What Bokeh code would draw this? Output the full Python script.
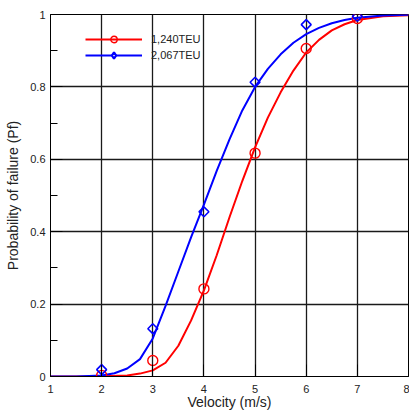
import math
from bokeh.plotting import figure
from bokeh.models import Range1d, FixedTicker, Legend, LegendItem
from bokeh.embed import file_html
from bokeh.resources import INLINE

# Measured data points
vel_pts = [2, 3, 4, 5, 6, 7]
teu1240_pts = [0.003, 0.044, 0.242, 0.617, 0.906, 0.989]
teu2067_pts = [0.019, 0.132, 0.455, 0.813, 0.972, 0.995]

# Fitted curves
red_curve_x = [1, 1.5, 2, 2.5, 2.75, 3, 3.25, 3.5, 3.75, 4, 4.25, 4.5, 4.75, 5, 5.25, 5.5,
               5.75, 6, 6.25, 6.5, 6.75, 7, 7.5, 8]
red_curve_y = [0, 0, 0.0005, 0.003, 0.008, 0.017, 0.038, 0.085, 0.155, 0.238, 0.335, 0.44,
               0.54, 0.633, 0.715, 0.785, 0.845, 0.895, 0.93, 0.956, 0.973, 0.985, 0.995, 0.998]
blue_curve_x = [1, 1.5, 2, 2.25, 2.5, 2.75, 3, 3.25, 3.5, 3.75, 4, 4.25, 4.5, 4.75, 5, 5.25,
                5.5, 5.75, 6, 6.25, 6.5, 6.75, 7, 7.5, 8]
blue_curve_y = [0, 0, 0.003, 0.009, 0.022, 0.048, 0.105, 0.195, 0.29, 0.385, 0.475, 0.568,
                0.655, 0.735, 0.80, 0.85, 0.89, 0.922, 0.946, 0.963, 0.976, 0.985, 0.991,
                0.997, 0.999]

labels = ["1,240TEU", "2,067TEU"]
x_ticks = [1, 2, 3, 4, 5, 6, 7, 8]
y_ticks = [0, 0.2, 0.4, 0.6, 0.8, 1]
y_minor = [0.1, 0.3, 0.5, 0.7, 0.9]
y_tick_labels = {0: "0", 0.2: "0.2", 0.4: "0.4", 0.6: "0.6", 0.8: "0.8", 1: "1"}

FONT = "Liberation Sans"
RED = "#ff0000"
BLUE = "#0000ff"

p = figure(width=409, height=412, output_backend="svg", toolbar_location=None,
           x_range=Range1d(1, 8), y_range=Range1d(0, 1),
           min_border_left=50, min_border_right=1, min_border_top=14, min_border_bottom=35)
# a range that the data never reaches: used only for the legend's key marker
p.extra_y_ranges = {"legend_only": Range1d(10, 11)}

p.outline_line_color = "black"
p.outline_line_width = 1
p.background_fill_color = "white"
p.border_fill_color = "white"

p.xaxis.ticker = FixedTicker(ticks=x_ticks)
p.yaxis.ticker = FixedTicker(ticks=y_ticks, minor_ticks=y_minor)
p.yaxis.major_label_overrides = y_tick_labels

for ax in (p.xaxis[0], p.yaxis[0]):
    ax.axis_line_color = "black"
    ax.major_tick_in = 12
    ax.major_tick_out = 0
    ax.minor_tick_in = 7
    ax.minor_tick_out = 0
    ax.major_tick_line_color = "black"
    ax.minor_tick_line_color = "black"
    ax.major_label_text_font = FONT
    ax.major_label_text_font_size = "11px"
    ax.major_label_text_color = "#222222"
    ax.axis_label_text_font = FONT
    ax.axis_label_text_font_size = "14px"
    ax.axis_label_text_font_style = "normal"
    ax.axis_label_text_color = "#222222"

p.xaxis.axis_label = "Velocity (m/s)"
p.yaxis.axis_label = "Probability of failure (Pf)"
p.xaxis.major_label_standoff = 8
p.xaxis.axis_label_standoff = -2
p.yaxis.major_label_standoff = 5
p.yaxis.axis_label_standoff = 6

p.xgrid.ticker = FixedTicker(ticks=x_ticks)
p.ygrid.ticker = FixedTicker(ticks=y_ticks)
p.grid.grid_line_color = "#1a1a1a"
p.grid.grid_line_width = 1.3

r_line = p.line(red_curve_x, red_curve_y, line_color=RED, line_width=2)
b_line = p.line(blue_curve_x, blue_curve_y, line_color=BLUE, line_width=2)
r_pts = p.scatter(vel_pts, teu1240_pts, marker="circle", size=10, line_color=RED,
                  line_width=1.4, fill_alpha=0)
b_pts = p.scatter(vel_pts, teu2067_pts, marker="square", size=7, angle=math.pi / 4,
                  line_color=BLUE, line_width=1.6, fill_alpha=0)
b_key = p.scatter(vel_pts, teu2067_pts, y_range_name="legend_only", marker="diamond",
                  size=11, line_color=BLUE, line_width=2.2, fill_color="white")

legend = Legend(items=[LegendItem(label=labels[0], renderers=[r_line, r_pts]),
                       LegendItem(label=labels[1], renderers=[b_line, b_key])],
                location=(35, 313), orientation="vertical")
legend.border_line_color = None
legend.background_fill_alpha = 0
legend.padding = 0
legend.margin = 0
legend.spacing = -6
legend.glyph_width = 57
legend.glyph_height = 16
legend.label_height = 16
legend.label_standoff = 9
legend.label_text_font = FONT
legend.label_text_font_size = "11px"
legend.label_text_color = "#222222"
p.add_layout(legend, "center")

open("out.html", "w").write(file_html(p, INLINE))
